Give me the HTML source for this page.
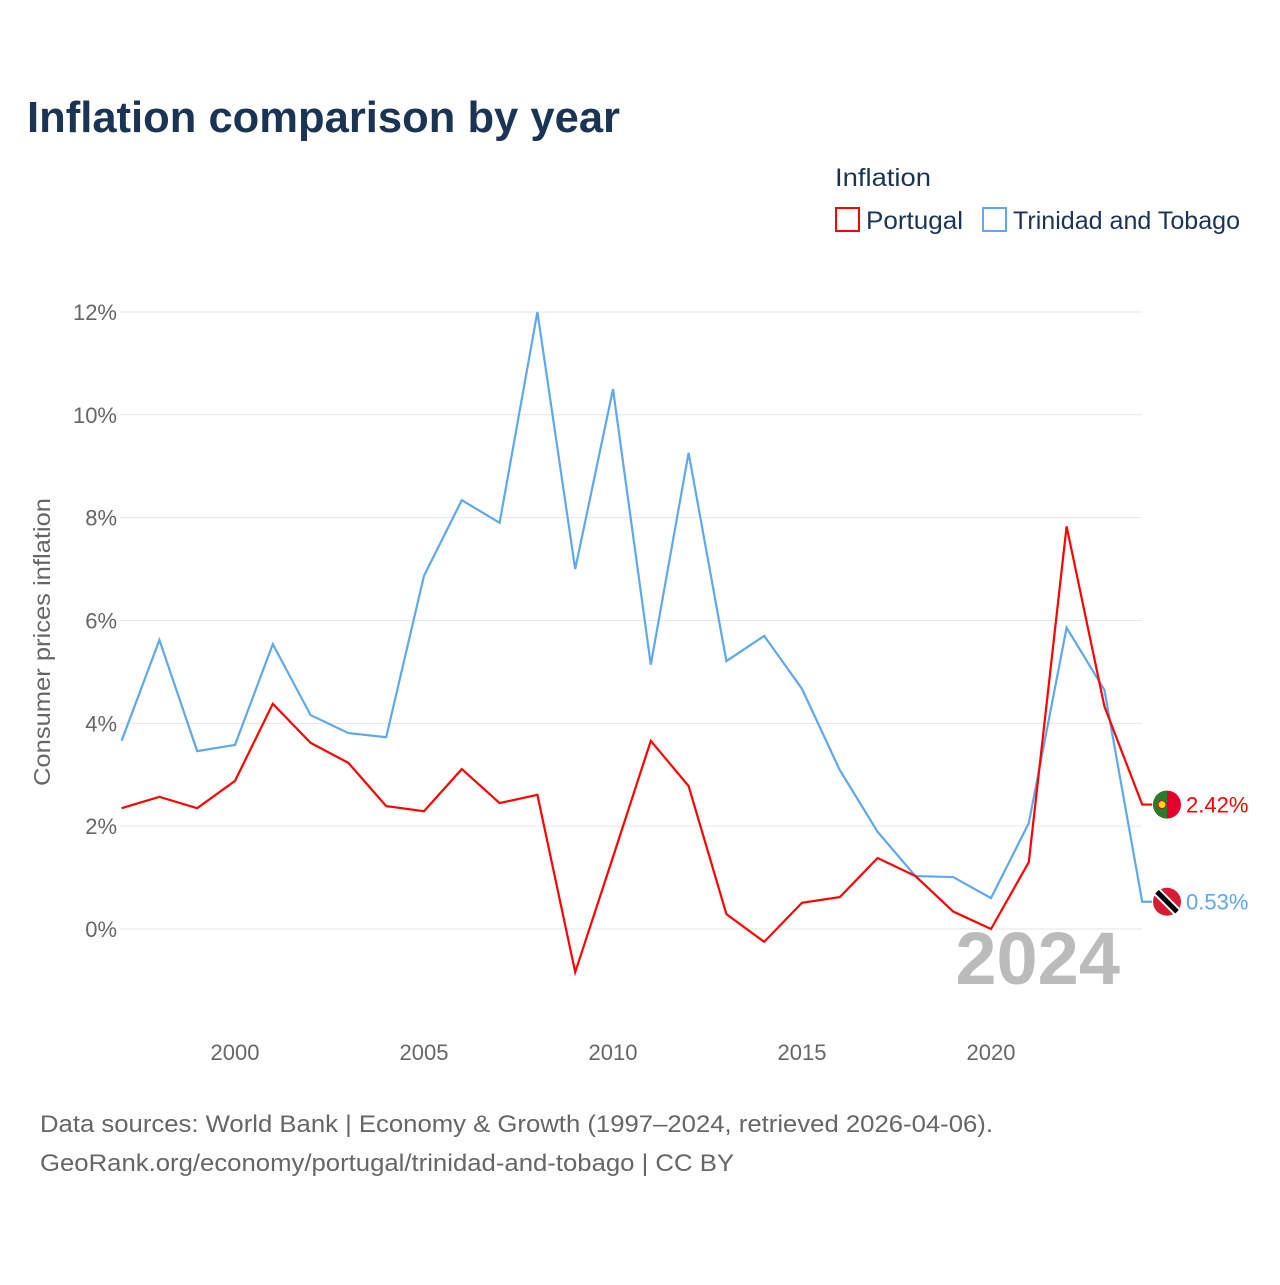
<!DOCTYPE html>
<html><head><meta charset="utf-8"><style>
body{margin:0;background:#fff;font-family:"Liberation Sans",sans-serif}
</style></head><body>
<svg id="c" width="1280" height="1280" xmlns="http://www.w3.org/2000/svg" style="font-family:'Liberation Sans',sans-serif">
<text x="27" y="132" font-size="44" font-weight="bold" fill="#1b3454" textLength="593" lengthAdjust="spacingAndGlyphs">Inflation comparison by year</text>
<text x="835" y="186" font-size="25" fill="#1b3454" textLength="96" lengthAdjust="spacingAndGlyphs">Inflation</text>
<g><rect x="836" y="208" width="23" height="23" fill="none" stroke="#f00" stroke-width="2"/><text x="866" y="229" font-size="25" fill="#1b3454" textLength="97" lengthAdjust="spacingAndGlyphs">Portugal</text></g>
<g><rect x="983" y="208" width="23" height="23" fill="none" stroke="#5ea8ec" stroke-width="2"/><text x="1013" y="229" font-size="25" fill="#1b3454" textLength="227" lengthAdjust="spacingAndGlyphs">Trinidad and Tobago</text></g>
<g id="grid"></g><g id="yt"></g><g id="xt"></g>
<text transform="translate(50,642) rotate(-90)" text-anchor="middle" font-size="23" fill="#666" textLength="288" lengthAdjust="spacingAndGlyphs">Consumer prices inflation</text>
<text x="1120" y="984" text-anchor="end" font-size="74" font-weight="bold" fill="#bbb">2024</text>
<g id="series"></g>
<text x="40" y="1132" font-size="24" fill="#666" textLength="953" lengthAdjust="spacingAndGlyphs">Data sources: World Bank | Economy &amp; Growth (1997–2024, retrieved 2026-04-06).</text>
<text x="40" y="1171" font-size="24" fill="#666" textLength="694" lengthAdjust="spacingAndGlyphs">GeoRank.org/economy/portugal/trinidad-and-tobago | CC BY</text>
</svg>
<script>
const years=[1997,1998,1999,2000,2001,2002,2003,2004,2005,2006,2007,2008,2009,2010,2011,2012,2013,2014,2015,2016,2017,2018,2019,2020,2021,2022,2023,2024];
const portugal=[2.35,2.57,2.35,2.88,4.38,3.62,3.23,2.39,2.29,3.11,2.45,2.61,-0.84,1.40,3.66,2.78,0.29,-0.25,0.51,0.62,1.38,1.03,0.34,0,1.30,7.83,4.33,2.42];
const trinidad=[3.66,5.62,3.46,3.58,5.54,4.16,3.81,3.73,6.87,8.34,7.90,12.0,7.0,10.5,5.14,9.26,5.21,5.70,4.67,3.09,1.89,1.03,1.01,0.60,2.06,5.86,4.65,0.53];
const yTicks=[0,2,4,6,8,10,12];
const xTicks=[2000,2005,2010,2015,2020];
const NS="http://www.w3.org/2000/svg";
const X=y=>235+(y-2000)*37.8, Y=v=>929-v*51.42;
function mk(t,a,p){const e=document.createElementNS(NS,t);for(const k in a)e.setAttribute(k,a[k]);p.appendChild(e);return e;}
const g=document.getElementById('grid'),yt=document.getElementById('yt'),xt=document.getElementById('xt'),s=document.getElementById('series');
yTicks.forEach(v=>{const l=mk('line',{x1:120,x2:1142,y1:Y(v),y2:Y(v),stroke:'#e6e6e6'},g);


const t=mk('text',{x:117,y:Y(v)+8,'text-anchor':'end','font-size':22,fill:'#666'},yt);t.textContent=v+'%';

});
xTicks.forEach(v=>{const t=mk('text',{x:X(v),y:1060,'text-anchor':'middle','font-size':22,fill:'#666'},xt);t.textContent=v;

});
function line(vals,col,name,lab){
 const pts=vals.map((v,i)=>X(years[i])+','+Y(v));pts.push((X(2024)+10)+','+Y(vals[vals.length-1]));
 const p=mk('polyline',{points:pts.join(' '),fill:'none',stroke:col,'stroke-width':2.2},s);
 
 
 const yy=Y(vals[vals.length-1]);
 const c=mk('circle',{cx:1167,cy:yy,r:14,fill:name=='portugal'?'#e4002b':'#da1a35'},s);
 
 
 if(name=='portugal'){const h=mk('path',{d:`M1167 ${yy-14} A14 14 0 0 0 1167 ${yy+14} Z`,fill:'#2c7a2c'},s);
  const e=mk('circle',{cx:1162,cy:yy,r:4,fill:'#fd0',stroke:'#e4002b','stroke-width':1},s);}
 else{const b=mk('line',{x1:1157,y1:yy-10,x2:1177,y2:yy+10,stroke:'#fff','stroke-width':9},s);
  const b2=mk('line',{x1:1157,y1:yy-10,x2:1177,y2:yy+10,stroke:'#000','stroke-width':5},s);}
 const t=mk('text',{x:1186,y:yy+8,'font-size':22,fill:col},s);t.textContent=lab;
 
 
}
line(trinidad,'#5ea8ec','trinidad',trinidad[trinidad.length-1].toFixed(2)+'%');
line(portugal,'#f00','portugal',portugal[portugal.length-1].toFixed(2)+'%');
</script>
</body></html>
